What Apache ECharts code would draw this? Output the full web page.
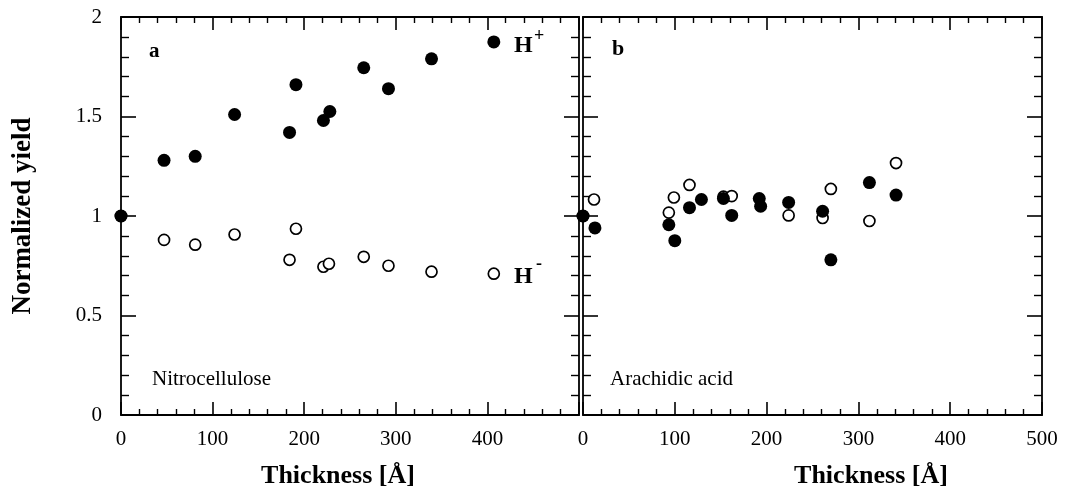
<!DOCTYPE html>
<html>
<head>
<meta charset="utf-8">
<script src="https://cdn.jsdelivr.net/npm/echarts@6/dist/echarts.min.js"></script>
<style>
html, body { margin: 0; padding: 0; background: #fff; }
#chart { width: 1065px; height: 487px; }
</style>
</head>
<body>
<div id="chart"></div>
<script>
// panel a: nitrocellulose
var nitroHplusX = [0, 47, 81, 124, 184, 191, 221, 228, 265, 292, 339, 407];
var nitroHplusY = [1.0, 1.28, 1.30, 1.51, 1.42, 1.66, 1.48, 1.525, 1.745, 1.64, 1.79, 1.875];
var nitroHminusX = [0, 47, 81, 124, 184, 191, 221, 227, 265, 292, 339, 407];
var nitroHminusY = [1.0, 0.88, 0.856, 0.907, 0.78, 0.936, 0.745, 0.76, 0.795, 0.75, 0.72, 0.71];

// panel b: arachidic acid
var araHplusX = [0, 13, 93.5, 100, 116, 129, 153, 162, 192, 193.5, 224, 261, 270, 312, 341];
var araHplusY = [1.0, 0.94, 0.956, 0.876, 1.042, 1.083, 1.088, 1.003, 1.088, 1.049, 1.068, 1.024, 0.78, 1.168, 1.105];
var araHminusX = [0, 12, 93.5, 99, 116, 153, 162, 224, 261, 270, 312, 341];
var araHminusY = [1.0, 1.083, 1.017, 1.093, 1.156, 1.097, 1.10, 1.003, 0.99, 1.136, 0.975, 1.266];

var xTicksLeft = ["0", "100", "200", "300", "400", ""];
var xTicksRight = ["0", "100", "200", "300", "400", "500"];
var yTicks = ["0", "0.5", "1", "1.5", "2"];

var serif = "Liberation Serif";

function pairs(xs, ys) {
  var out = [];
  for (var i = 0; i < xs.length; i++) {
    out.push([xs[i], ys[i]]);
  }
  return out;
}

function xAxisOf(gridIndex, position, labels) {
  return {
    type: "value",
    gridIndex: gridIndex,
    position: position,
    min: 0,
    max: 500,
    interval: 100,
    splitLine: { show: false },
    axisLine: { show: true, onZero: false, lineStyle: { color: "#000", width: 1.8 } },
    axisTick: { show: true, inside: true, length: 13, lineStyle: { color: "#000", width: 1.6 } },
    minorTick: { show: true, splitNumber: 5, length: 6, lineStyle: { color: "#000", width: 1.4 } },
    axisLabel: {
      show: !!labels,
      margin: 14,
      color: "#000",
      fontFamily: serif,
      fontSize: 21,
      formatter: function(v) {
        return labels ? labels[Math.round(v / 100)] : "";
      }
    }
  };
}

function yAxisOf(gridIndex, position, showLabels, title) {
  return {
    type: "value",
    gridIndex: gridIndex,
    position: position,
    min: 0,
    max: 2,
    interval: 0.5,
    splitLine: { show: false },
    axisLine: { show: true, onZero: false, lineStyle: { color: "#000", width: 1.8 } },
    axisTick: { show: true, inside: true, length: 15, lineStyle: { color: "#000", width: 1.6 } },
    minorTick: { show: true, splitNumber: 5, length: 8, lineStyle: { color: "#000", width: 1.4 } },
    axisLabel: {
      show: showLabels,
      margin: 19,
      color: "#000",
      fontFamily: serif,
      fontSize: 21,
      formatter: function(v) {
        return yTicks[Math.round(v * 2)];
      }
    },
    name: title || "",
    nameLocation: "middle",
    nameRotate: 90,
    nameGap: 84,
    nameTextStyle: { color: "#000", fontFamily: serif, fontSize: 27, fontWeight: "bold" }
  };
}

function filled(data, xi) {
  return {
    type: "scatter",
    xAxisIndex: xi,
    yAxisIndex: xi,
    clip: false,
    symbol: "circle",
    symbolSize: 13,
    itemStyle: { color: "#000", opacity: 1 },
    data: data,
    z: 3
  };
}

function hollow(data, xi) {
  return {
    type: "scatter",
    xAxisIndex: xi,
    yAxisIndex: xi,
    clip: false,
    symbol: "circle",
    symbolSize: 11,
    itemStyle: { color: "#fff", borderColor: "#000", borderWidth: 1.7, opacity: 1 },
    data: data,
    z: 2
  };
}

function txt(left, top, text, size, bold) {
  return {
    type: "text",
    left: left,
    top: top,
    z: 10,
    style: {
      text: text,
      fill: "#000",
      font: (bold ? "bold " : "") + size + "px '" + serif + "'"
    }
  };
}

// centred text, used for the two x axis titles (they sit off-centre in the original)
function ctxt(x, y, text, size) {
  return {
    type: "text",
    x: x,
    y: y,
    z: 10,
    style: {
      text: text,
      fill: "#000",
      align: "center",
      verticalAlign: "middle",
      font: "bold " + size + "px '" + serif + "'"
    }
  };
}

var chart = echarts.init(document.getElementById("chart"), null, { renderer: "canvas" });

var option = {
  animation: false,
  backgroundColor: "#fff",
  grid: [
    { left: 121, top: 17, width: 458, height: 398, containLabel: false, outerBoundsMode: "none" },
    { left: 583, top: 17, width: 459, height: 398, containLabel: false, outerBoundsMode: "none" }
  ],
  xAxis: [
    xAxisOf(0, "bottom", xTicksLeft),
    xAxisOf(0, "top", null),
    xAxisOf(1, "bottom", xTicksRight),
    xAxisOf(1, "top", null)
  ],
  yAxis: [
    yAxisOf(0, "left", true, "Normalized yield"),
    yAxisOf(0, "right", false),
    yAxisOf(1, "left", false),
    yAxisOf(1, "right", false)
  ],
  series: [
    hollow(pairs(nitroHminusX, nitroHminusY), 0),
    filled(pairs(nitroHplusX, nitroHplusY), 0),
    hollow(pairs(araHminusX, araHminusY), 2),
    filled(pairs(araHplusX, araHplusY), 2)
  ],
  graphic: [
    txt(149, 41, "a", 21, true),
    txt(612, 38, "b", 22, true),
    txt(514, 34, "H", 24, true),
    txt(534, 27, "+", 18, true),
    txt(514, 265, "H", 24, true),
    txt(536, 255, "-", 18, true),
    txt(152, 369, "Nitrocellulose", 21, false),
    txt(610, 369, "Arachidic acid", 21, false),
    ctxt(338, 476, "Thickness [Å]", 26),
    ctxt(871, 476, "Thickness [Å]", 26)
  ]
};

chart.setOption(option);
</script>
</body>
</html>
